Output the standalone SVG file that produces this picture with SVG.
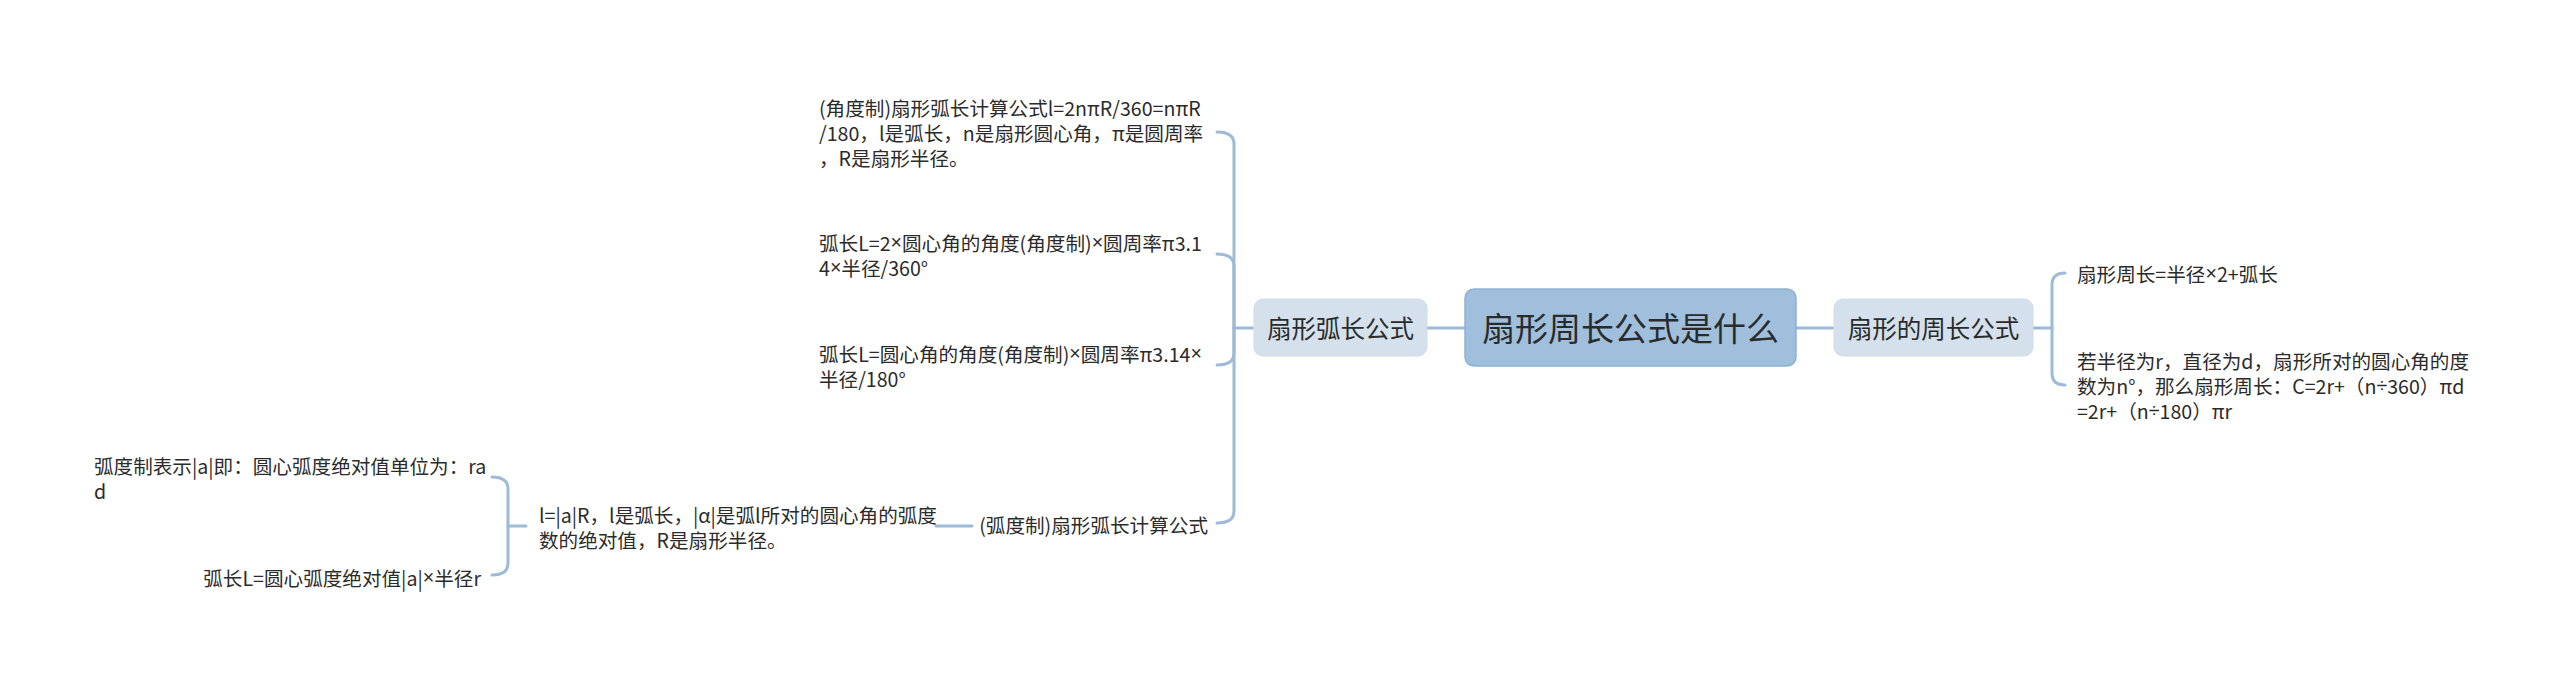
<svg xmlns="http://www.w3.org/2000/svg" width="2560" height="680" viewBox="0 0 2560 680">
<style>
text{font-family:"Noto Sans CJK SC","Noto Sans",sans-serif;fill:#2b2b2b;dominant-baseline:central}
.leaf{font-size:19.6px}
.sub{font-size:24.5px;text-anchor:middle}
.root{font-size:33px;text-anchor:middle}
.m{font-family:"Liberation Sans",sans-serif}
.subbox{fill:#d4e1ec;stroke:#cfdce8;stroke-width:1}
.rootbox{fill:#9fbfdc;stroke:#8fb2d3;stroke-width:1.5}
.conn path{fill:none;stroke:#9dbad6;stroke-width:3;stroke-linecap:round}
</style>
<rect width="2560" height="680" fill="#ffffff"/>
<g class="conn" id="connectors">
<path d="M1427,328 L1465,328"/>
<path d="M1796,328 L1834,328"/>
<path d="M1254,328 L1234,328"/>
<path d="M1234,328 L1234,144 Q1234,132 1217,132"/>
<path d="M1234,328 L1234,266 Q1234,254 1217,254"/>
<path d="M1234,328 L1234,353 Q1234,365 1217,365"/>
<path d="M1234,328 L1234,511 Q1234,523 1217,523"/>
<path d="M2033,328 L2052,328"/>
<path d="M2052,328 L2052,285 Q2052,273 2065,273"/>
<path d="M2052,328 L2052,373 Q2052,385 2065,385"/>
<path d="M972,526 L936,526"/>
<path d="M526,526 L508,526"/>
<path d="M508,526 L508,489 Q508,477 492,477"/>
<path d="M508,526 L508,563 Q508,575 492,575"/>
</g>
<g id="root">
<rect class="rootbox" x="1465" y="289" width="331" height="77" rx="9"/>
<text class="root" x="1630.5" y="327">扇形周长公式是什么</text>
</g>
<g id="n-arc">
<rect class="subbox" x="1254" y="299" width="173" height="57" rx="9"/>
<text class="sub" x="1340.5" y="327">扇形弧长公式</text>
</g>
<g id="n-perim">
<rect class="subbox" x="1834" y="299" width="199" height="57" rx="9"/>
<text class="sub" x="1933.5" y="327">扇形的周长公式</text>
</g>
<g id="t1">
<text class="leaf" x="819" y="107">(角度制)扇形弧长计算公式l=2nπR/360=nπR</text>
<text class="leaf" x="819" y="132">/180，l是弧长，n是扇形圆心角，π是圆周率</text>
<text class="leaf" x="819" y="157">，R是扇形半径。</text>
</g>
<g id="t2">
<text class="leaf" x="819" y="242">弧长L=2<tspan class="m">×</tspan>圆心角的角度(角度制)<tspan class="m">×</tspan>圆周率π3.1</text>
<text class="leaf" x="819" y="267">4<tspan class="m">×</tspan>半径/360°</text>
</g>
<g id="t3">
<text class="leaf" x="819" y="353">弧长L=圆心角的角度(角度制)<tspan class="m">×</tspan>圆周率π3.14<tspan class="m">×</tspan></text>
<text class="leaf" x="819" y="378">半径/180°</text>
</g>
<g id="t4">
<text class="leaf" x="1208" y="524" text-anchor="end">(弧度制)扇形弧长计算公式</text>
</g>
<g id="t5">
<text class="leaf" x="539" y="514">l=|a|R，l是弧长，|α|是弧l所对的圆心角的弧度</text>
<text class="leaf" x="539" y="539">数的绝对值，R是扇形半径。</text>
</g>
<g id="t6">
<text class="leaf" x="94" y="465">弧度制表示|a|即：圆心弧度绝对值单位为：ra</text>
<text class="leaf" x="94" y="490">d</text>
</g>
<g id="t7">
<text class="leaf" x="481" y="577" text-anchor="end">弧长L=圆心弧度绝对值|a|<tspan class="m">×</tspan>半径r</text>
</g>
<g id="r1">
<text class="leaf" x="2077" y="273">扇形周长=半径<tspan class="m">×</tspan>2+弧长</text>
</g>
<g id="r2">
<text class="leaf" x="2077" y="360">若半径为r，直径为d，扇形所对的圆心角的度</text>
<text class="leaf" x="2077" y="385">数为n°，那么扇形周长：C=2r+（n<tspan class="m">÷</tspan>360）πd</text>
<text class="leaf" x="2077" y="410">=2r+（n<tspan class="m">÷</tspan>180）πr</text>
</g>
</svg>
